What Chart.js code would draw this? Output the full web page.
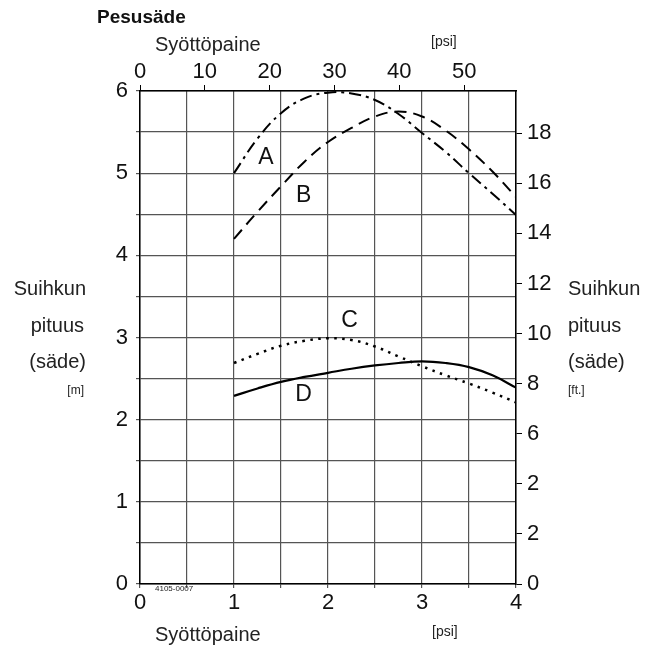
<!DOCTYPE html>
<html lang="fi">
<head>
    <meta charset="UTF-8">
    <title>Pesusäde</title>
    <style>
        html, body { margin: 0; padding: 0; background: #fff; }
        #wrap { width: 658px; height: 652px; position: relative; }
    </style>
</head>
<body>
    <div id="wrap"><canvas id="chart" width="658" height="652"></canvas></div>

    <script src="https://cdn.jsdelivr.net/npm/chart.js@4/dist/chart.umd.min.js"></script>
    <script>
        // syöttöpaine (bar)
        const pressure = [1, 1.25, 1.5, 1.75, 2, 2.25, 2.5, 2.75, 3, 3.25, 3.5, 3.75, 4];
        // suihkun pituus (m)
        const curveA = [5.0, 5.42, 5.73, 5.91, 5.98, 5.97, 5.89, 5.72, 5.49, 5.26, 5.0, 4.75, 4.49];
        const curveB = [4.2, 4.53, 4.84, 5.14, 5.38, 5.55, 5.69, 5.75, 5.69, 5.52, 5.29, 5.02, 4.71];
        const curveC = [2.69, 2.80, 2.90, 2.96, 2.99, 2.97, 2.89, 2.77, 2.65, 2.54, 2.44, 2.33, 2.21];
        const curveD = [2.29, 2.38, 2.46, 2.52, 2.57, 2.62, 2.66, 2.69, 2.71, 2.69, 2.64, 2.54, 2.39];

        const curveNames = ['A', 'B', 'C', 'D'];
        const namePosX = [1.34, 1.74, 2.23, 1.74];
        const namePosY = [5.19, 4.73, 3.2, 2.31];

        // akselit
        const barMax = 4;
        const meterMax = 6;
        const psiMax = 58;
        const ftMax = 19.685;
        const ftLabels = ['0', '2', '2', '6', '8', '10', '12', '14', '16', '18'];

        const FONT = "'Liberation Sans', Arial, sans-serif";
        const INK = '#111';

        function toPoints(ys) {
            return pressure.map((x, i) => ({ x: x, y: ys[i] }));
        }

        // tekstit akseleiden ympärillä
        const textPlugin = {
            id: 'texts',
            afterDraw(chart) {
                const ctx = chart.ctx;
                const sx = chart.scales.x;
                const sy = chart.scales.y;
                ctx.save();
                ctx.fillStyle = INK;
                ctx.textBaseline = 'middle';

                // käyrien kirjaimet
                ctx.font = '23px ' + FONT;
                ctx.textAlign = 'center';
                curveNames.forEach((n, i) => {
                    ctx.fillText(n, sx.getPixelForValue(namePosX[i]), sy.getPixelForValue(namePosY[i]));
                });

                ctx.textAlign = 'left';
                ctx.font = 'bold 19px ' + FONT;
                ctx.fillText('Pesusäde', 97, 18);

                ctx.fillStyle = '#222';
                ctx.font = '20px ' + FONT;
                ctx.fillText('Syöttöpaine', 155, 45);
                ctx.fillText('Syöttöpaine', 155, 635);

                ctx.font = '14px ' + FONT;
                ctx.fillText('[psi]', 431, 42);
                ctx.fillText('[psi]', 432, 632);

                // oikea otsikko
                ctx.font = '20px ' + FONT;
                ctx.fillText('Suihkun', 568, 289);
                ctx.fillText('pituus', 568, 326);
                ctx.fillText('(säde)', 568, 362);
                ctx.font = '12px ' + FONT;
                ctx.fillText('[ft.]', 568, 391);

                // vasen otsikko
                ctx.textAlign = 'right';
                ctx.font = '20px ' + FONT;
                ctx.fillText('Suihkun', 86, 289);
                ctx.fillText('pituus', 84, 326);
                ctx.fillText('(säde)', 86, 362);
                ctx.font = '12px ' + FONT;
                ctx.fillText('[m]', 84, 391);

                ctx.textAlign = 'left';
                ctx.font = '8px ' + FONT;
                ctx.fillText('4105-0007', 155, 589);
                ctx.restore();
            }
        };

        const lineStyle = {
            borderColor: '#000',
            pointRadius: 0,
            tension: 0.4,
            fill: false
        };

        new Chart(document.getElementById('chart'), {
            type: 'line',
            data: {
                datasets: [
                    Object.assign({ label: 'A', data: toPoints(curveA), borderWidth: 2, borderDash: [12, 5, 3, 5] }, lineStyle),
                    Object.assign({ label: 'B', data: toPoints(curveB), borderWidth: 2, borderDash: [12, 7] }, lineStyle),
                    Object.assign({ label: 'C', data: toPoints(curveC), borderWidth: 2.5, borderDash: [2.5, 5.5] }, lineStyle),
                    Object.assign({ label: 'D', data: toPoints(curveD), borderWidth: 2.2 }, lineStyle)
                ]
            },
            options: {
                responsive: false,
                animation: false,
                layout: { padding: { left: 100, right: 92, top: 59, bottom: 34 } },
                plugins: { legend: { display: false }, tooltip: { enabled: false } },
                scales: {
                    x: {
                        type: 'linear', position: 'bottom', min: 0, max: barMax,
                        afterFit(s) { s.height = 34; },
                        border: { color: '#000', width: 1.5 },
                        grid: { color: '#555', lineWidth: 1.2, tickLength: 4 },
                        ticks: {
                            stepSize: 0.5, padding: 2, color: INK, maxRotation: 0, autoSkip: false,
                            font: { family: FONT, size: 22 },
                            callback: v => Number.isInteger(v) ? String(v) : ''
                        }
                    },
                    x2: {
                        type: 'linear', position: 'top', min: 0, max: psiMax,
                        afterFit(s) { s.height = 32; },
                        border: { color: '#000', width: 1.5 },
                        grid: { drawOnChartArea: false, color: '#000', tickLength: 6 },
                        ticks: {
                            stepSize: 10, includeBounds: false, padding: 0, color: INK, maxRotation: 0,
                            font: { family: FONT, size: 22 }
                        }
                    },
                    y: {
                        type: 'linear', position: 'left', min: 0, max: meterMax,
                        afterFit(s) { s.width = 40; },
                        border: { color: '#000', width: 1.5 },
                        grid: { color: '#555', lineWidth: 1.2, tickLength: 4 },
                        ticks: {
                            stepSize: 0.5, padding: 8, color: INK, autoSkip: false,
                            font: { family: FONT, size: 22 },
                            callback: v => Number.isInteger(v) ? String(v) : ''
                        }
                    },
                    y2: {
                        type: 'linear', position: 'right', min: 0, max: ftMax,
                        afterFit(s) { s.width = 50; },
                        border: { color: '#000', width: 1.5 },
                        grid: { drawOnChartArea: false, color: '#000', tickLength: 6 },
                        ticks: {
                            stepSize: 2, includeBounds: false, padding: 5, color: INK, autoSkip: false,
                            font: { family: FONT, size: 22 },
                            callback: (v, i) => ftLabels[i]
                        }
                    }
                }
            },
            plugins: [textPlugin]
        });
    </script>
</body>
</html>
